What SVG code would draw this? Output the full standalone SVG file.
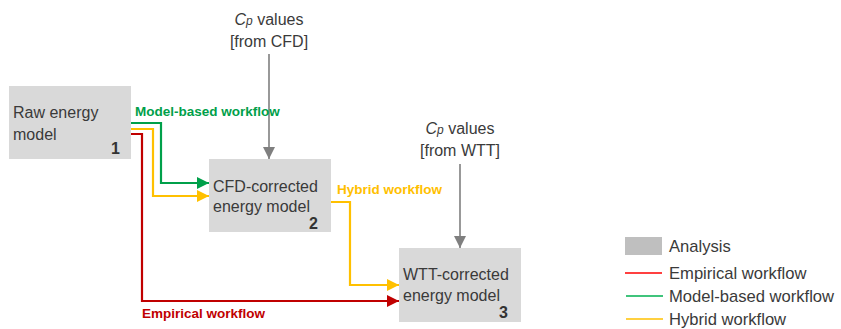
<svg xmlns="http://www.w3.org/2000/svg" width="841" height="329" viewBox="0 0 841 329">
<style>
.box{fill:#D9D9D9;}
.t{font-family:"Liberation Sans",Arial,sans-serif;font-size:16px;fill:#3a3a3a;}
.lg{font-size:16.6px;}
.n{font-family:"Liberation Sans",Arial,sans-serif;font-size:16px;font-weight:bold;fill:#333;}
.lbl{font-family:"Liberation Sans",Arial,sans-serif;font-size:13.5px;font-weight:bold;}
.w{fill:none;stroke-width:2.2;}
</style>
<defs>
<marker id="ag" markerUnits="userSpaceOnUse" markerWidth="12" markerHeight="12" refX="12" refY="6" orient="auto"><path d="M0,0 L12,6 L0,12 z" fill="#00A04A"/></marker>
<marker id="ay" markerUnits="userSpaceOnUse" markerWidth="12" markerHeight="12" refX="12" refY="6" orient="auto"><path d="M0,0 L12,6 L0,12 z" fill="#FFC000"/></marker>
<marker id="ar" markerUnits="userSpaceOnUse" markerWidth="12" markerHeight="12" refX="12" refY="6" orient="auto"><path d="M0,0 L12,6 L0,12 z" fill="#C00000"/></marker>
<marker id="agr" markerUnits="userSpaceOnUse" markerWidth="12" markerHeight="12" refX="12" refY="6" orient="auto"><path d="M0,0 L12,6 L0,12 z" fill="#7F7F7F"/></marker>
</defs>
<g id="node1"><rect class="box" x="9" y="86" width="122" height="73"/>
<text class="t" x="13" y="118">Raw energy</text><text class="t" x="13" y="140">model</text><text class="n" x="111" y="154">1</text></g>
<g id="node2"><rect class="box" x="209" y="159" width="122" height="73"/>
<text class="t" x="213" y="192">CFD-corrected</text><text class="t" x="213" y="212">energy model</text><text class="n" x="309" y="229">2</text></g>
<g id="node3"><rect class="box" x="399" y="248" width="122" height="74"/>
<text class="t" x="403" y="280">WTT-corrected</text><text class="t" x="403" y="301">energy model</text><text class="n" x="499" y="318">3</text></g>
<g id="src1"><text class="t" x="269" y="25" text-anchor="middle"><tspan font-style="italic">C</tspan><tspan font-style="italic" font-size="12">p</tspan> values</text><text class="t" x="269" y="47" text-anchor="middle">[from CFD]</text></g>
<g id="src2"><text class="t" x="460" y="134" text-anchor="middle"><tspan font-style="italic">C</tspan><tspan font-style="italic" font-size="12">p</tspan> values</text><text class="t" x="460" y="156" text-anchor="middle">[from WTT]</text></g>
<g id="connectors">
<path class="w" stroke="#00A04A" d="M131,123 H161 V183 H209" marker-end="url(#ag)"/>
<path class="w" stroke="#FFC000" d="M131,129 H153 V196 H209" marker-end="url(#ay)"/>
<path class="w" stroke="#C00000" d="M131,134 H142 V301 H399" marker-end="url(#ar)"/>
<path class="w" stroke="#FFC000" d="M331,202 H350 V285 H399" marker-end="url(#ay)"/>
<path fill="none" stroke="#7F7F7F" stroke-width="1.6" d="M269,54 V159" marker-end="url(#agr)"/>
<path fill="none" stroke="#7F7F7F" stroke-width="1.6" d="M460,164 V248" marker-end="url(#agr)"/>
<text class="lbl" x="135" y="116" fill="#00A04A">Model-based workflow</text>
<text class="lbl" x="337" y="194" fill="#FFC000">Hybrid workflow</text>
<text class="lbl" x="142" y="318" fill="#C00000">Empirical workflow</text>
</g>
<g id="legend">
<rect x="625" y="237" width="37" height="18" fill="#BFBFBF"/>
<text class="t lg" x="669" y="252">Analysis</text>
<line x1="625" y1="273" x2="662" y2="273" stroke="#FF0000" stroke-width="1.5"/>
<text class="t lg" x="669" y="279">Empirical workflow</text>
<line x1="626" y1="296" x2="663" y2="296" stroke="#00B050" stroke-width="1.5"/>
<text class="t lg" x="669" y="302">Model-based workflow</text>
<line x1="626" y1="319" x2="663" y2="319" stroke="#FFC000" stroke-width="1.5"/>
<text class="t lg" x="669" y="325">Hybrid workflow</text>
</g>
</svg>
